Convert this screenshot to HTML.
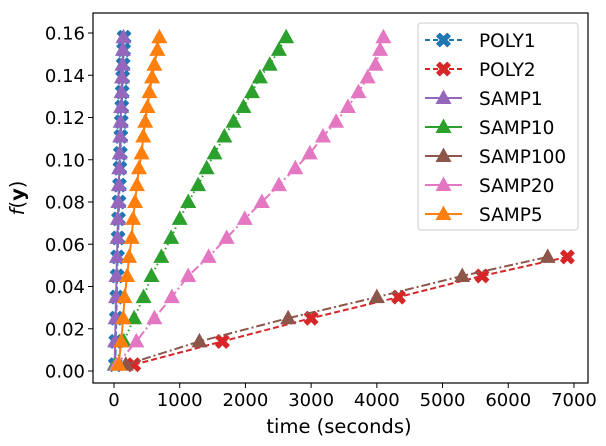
<!DOCTYPE html>
<html><head><meta charset="utf-8"><style>
body{margin:0;background:#fff}
svg{display:block;font-family:"DejaVu Sans","Liberation Sans",sans-serif}
</style></head><body>
<svg id="chart" width="606" height="446" viewBox="0 0 606 446" xmlns="http://www.w3.org/2000/svg">
<g id="plot"></g>
<g id="axes"></g>
<g id="legend"></g>
</svg>
<script>
const yLevels=[0.003,0.014,0.025,0.035,0.045,0.054,0.063,0.072,0.080,0.088,0.096,0.103,0.111,0.118,0.125,0.132,0.139,0.145,0.152,0.158];
const poly1X=[20,27,34,41,48,55,62,69,76,83,90,97,104,111,118,125,132,139,146,153];
const poly2X=[300,1650,3000,4330,5600,6900];
const samp1X=[10,17,24,31,38,45,52,59,66,73,80,87,94,101,108,115,122,129,136,143];
const samp10X=[20,150,306,450,570,720,870,1000,1130,1280,1410,1530,1680,1820,1970,2100,2220,2370,2510,2620];
const samp100X=[180,1300,2650,4000,5300,6600];
const samp20X=[40,340,615,880,1130,1440,1715,1990,2250,2510,2760,2980,3180,3380,3560,3720,3860,3980,4050,4100];
const samp5X=[70,110,140,160,200,230,270,290,320,350,380,420,445,475,510,540,580,615,660,690];
const xTicks=[0,1000,2000,3000,4000,5000,6000,7000];
const yTicks=[0,0.02,0.04,0.06,0.08,0.10,0.12,0.14,0.16];
const seriesNames=["POLY1","POLY2","SAMP1","SAMP10","SAMP100","SAMP20","SAMP5"];

const L=93,R=588,T=13,B=383;
const sx=v=>114+v*0.06571;
const sy=v=>371-v*2112.5;
const NS="http://www.w3.org/2000/svg";
function mk(tag,attrs,parent){const e=document.createElementNS(NS,tag);for(const k in attrs)e.setAttribute(k,attrs[k]);parent.appendChild(e);return e;}
const plot=document.getElementById('plot'),axes=document.getElementById('axes'),leg=document.getElementById('legend');

const series=[
 {name:"POLY1",xs:poly1X,c:"#1f77b4",dash:"6,3",m:"x"},
 {name:"POLY2",xs:poly2X,c:"#d62728",dash:"6,3",m:"x"},
 {name:"SAMP1",xs:samp1X,c:"#9467bd",dash:"",m:"t"},
 {name:"SAMP10",xs:samp10X,c:"#2ca02c",dash:"1.5,3",m:"t"},
 {name:"SAMP100",xs:samp100X,c:"#8c564b",dash:"9,3,2,3",m:"t"},
 {name:"SAMP20",xs:samp20X,c:"#e377c2",dash:"9,3,2,3",m:"t"},
 {name:"SAMP5",xs:samp5X,c:"#ff7f0e",dash:"",m:"t"}
];
function marker(type,x,y,c,parent){
 let e;
 if(type==="t"){e=mk('polygon',{points:`${x},${y-8.5} ${x-8},${y+6} ${x+8},${y+6}`,fill:c},parent);}
 else{const s=6.5,w=2.8;
  e=mk('path',{d:`M${x-s} ${y-s+w}L${x-s+w} ${y-s}L${x} ${y-w}L${x+s-w} ${y-s}L${x+s} ${y-s+w}L${x+w} ${y}L${x+s} ${y+s-w}L${x+s-w} ${y+s}L${x} ${y+w}L${x-s+w} ${y+s}L${x-s} ${y+s-w}L${x-w} ${y}Z`,fill:c,stroke:c,'stroke-width':1.5,'stroke-linejoin':'round'},parent);}
 return e;
}
series.forEach(s=>{
 const g=mk('g',{},plot);
 
 
 const pts=s.xs.map((x,i)=>sx(x)+','+sy(yLevels[i])).join(' ');
 const pl=mk('polyline',{points:pts,fill:'none',stroke:s.c,'stroke-width':2,'stroke-dasharray':s.dash},g);
 
 
 s.xs.forEach((x,i)=>{
  const m=marker(s.m,sx(x),sy(yLevels[i]),s.c,g);
  
  
 });
});
const fr=mk('rect',{x:L,y:T,width:R-L,height:B-T,fill:'none',stroke:'#000','stroke-width':1.2},axes);


xTicks.forEach(v=>{
 mk('line',{x1:sx(v),x2:sx(v),y1:B,y2:B+5,stroke:'#000'},axes);
 const t=mk('text',{x:sx(v),y:B+23,'text-anchor':'middle','font-size':18,fill:'#000'},axes);
 t.textContent=String(v);
 
 
});
yTicks.forEach(v=>{
 mk('line',{x1:L-5,x2:L,y1:sy(v),y2:sy(v),stroke:'#000'},axes);
 const t=mk('text',{x:L-8,y:sy(v)+6.5,'text-anchor':'end','font-size':18,fill:'#000'},axes);
 t.textContent=v.toFixed(2);
 
 
});
const xt=mk('text',{x:339,y:433,'text-anchor':'middle','font-size':19.5,fill:'#000'},axes);
xt.textContent='time (seconds)';


const yt=mk('text',{x:0,y:0,'text-anchor':'middle','font-size':19.5,fill:'#000',transform:'translate(24,198) rotate(-90)'},axes);
yt.innerHTML='<tspan font-style="italic">f</tspan>(<tspan font-weight="bold">y</tspan>)';


const lb=mk('rect',{x:418,y:23,width:160,height:207,rx:3,fill:'#fff','fill-opacity':0.8,stroke:'#ccc'},leg);


series.forEach((s,i)=>{
 const y=40+i*29;
 const g=mk('g',{},leg);
 
 
 mk('line',{x1:425,x2:462,y1:y,y2:y,stroke:s.c,'stroke-width':2,'stroke-dasharray':s.m==='x'?'5,3':''},g);
 marker(s.m,443.5,y,s.c,g);
 const t=mk('text',{x:479,y:y+7,'font-size':18.5,fill:'#000'},g);
 t.textContent=seriesNames[i];
});
</script>
</body></html>
